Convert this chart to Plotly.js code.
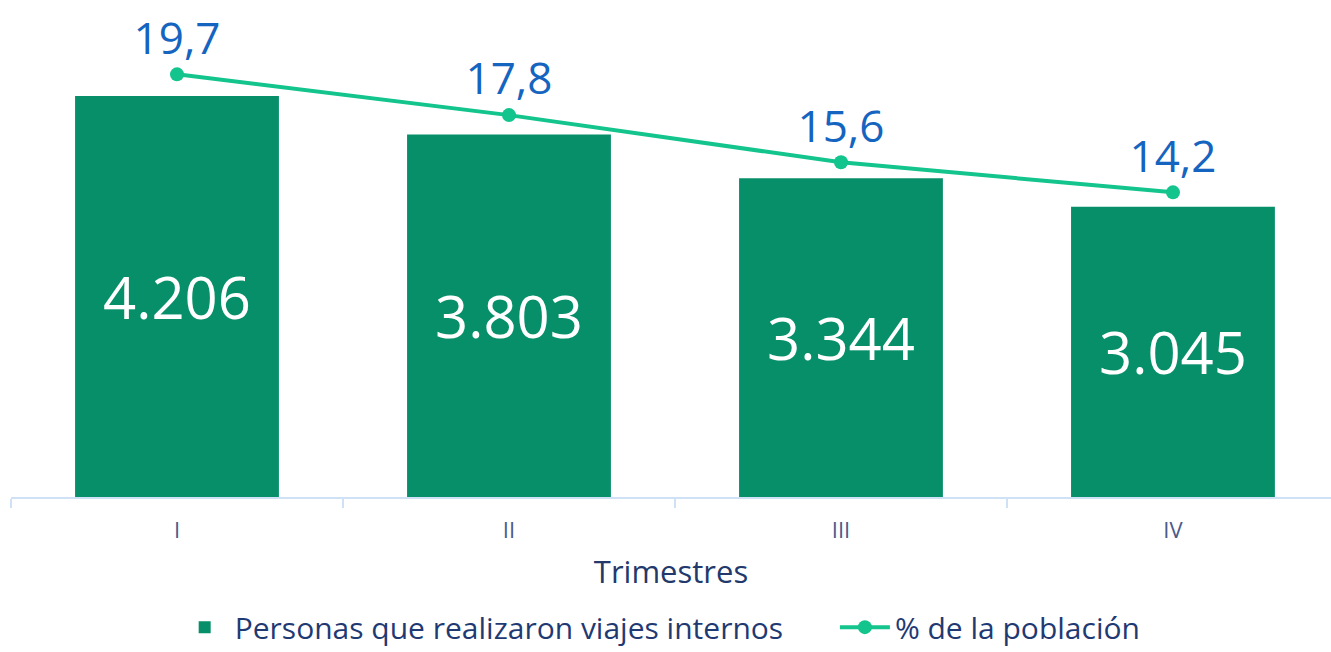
<!DOCTYPE html>
<html><head><meta charset="utf-8">
<script src="https://cdn.plot.ly/plotly-3.0.1.min.js"></script>
<style>html,body{margin:0;padding:0;background:#fff}#chart{width:1331px;height:652px}</style>
</head><body><div id="chart"></div>
<script>
const categories = ["I", "II", "III", "IV"];
const personas = [4206, 3803, 3344, 3045];
const porcentaje = [19.7, 17.8, 15.6, 14.2];
const barName = "Personas que realizaron viajes internos";
const lineName = "% de la población";

const FONT = "Open Sans, Lato, sans-serif";
const PAD = "\u00a0\u00a0\u00a0\u00a0\u00a0\u00a0";

const traces = [
  {
    type: "bar", x: categories, y: personas, name: barName + PAD,
    marker: {color: "#078f69"}, width: 0.614,
    texttemplate: "%{y:,.0f}", textposition: "inside", insidetextanchor: "middle",
    textangle: 0,
    textfont: {color: "#ffffff", size: 58, family: FONT},
    hoverinfo: "skip"
  },
  {
    type: "scatter", mode: "lines+markers+text", x: categories, y: porcentaje, yaxis: "y2",
    name: lineName,
    line: {color: "#13c48c", width: 4}, marker: {color: "#13c48c", size: 14},
    texttemplate: "%{y:.1f}", textposition: "top center",
    textfont: {color: "#1565c0", size: 44, family: FONT},
    hoverinfo: "skip", cliponaxis: false
  }
];

const layout = {
  width: 1331, height: 652,
  margin: {l: 11, r: 0, t: 10, b: 155, autoexpand: false},
  paper_bgcolor: "#ffffff", plot_bgcolor: "#ffffff",
  separators: ",.",
  font: {family: FONT, color: "#1f3a73"},
  showlegend: true,
  bargap: 0.386,
  xaxis: {
    type: "category", range: [-0.5, 3.476],
    showline: true, linecolor: "#cfe2f5", linewidth: 2,
    ticks: "outside", tickson: "boundaries", ticklen: 9, tickwidth: 2, tickcolor: "#cfe2f5",
    ticklabelstandoff: 13,
    tickfont: {size: 22, color: "#4a5a8a", family: FONT},
    title: {text: "Trimestres", font: {size: 31, color: "#23386b", family: FONT}, standoff: 18},
    showgrid: false, zeroline: false, fixedrange: true
  },
  yaxis: {range: [0, 5108], visible: false, showgrid: false, zeroline: false, fixedrange: true},
  yaxis2: {range: [0, 22.7], overlaying: "y", side: "right", visible: false, showgrid: false, zeroline: false, fixedrange: true},
  legend: {
    orientation: "h", xref: "container", yref: "container", x: 0.496, xanchor: "center",
    y: 0.078, yanchor: "top",
    font: {size: 30, color: "#1f3a73", family: FONT},
    itemwidth: 50, traceorder: "normal"
  }
};

Plotly.newPlot("chart", traces, layout, {displayModeBar: false, staticPlot: true});
</script>
</body></html>
